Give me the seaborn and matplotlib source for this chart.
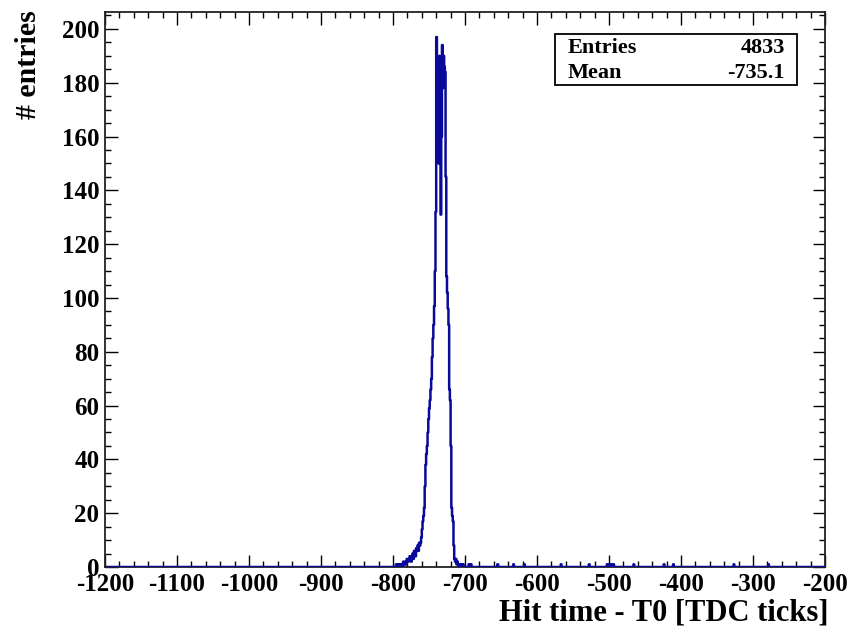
import numpy as np
import matplotlib
matplotlib.use("Agg")
import matplotlib.pyplot as plt
from matplotlib.ticker import MultipleLocator
import seaborn as sns

# bin low edges (1 TDC tick per bin) and counts of the main peak
peak_first_tick = -796
peak_counts = [
    1, 0, 0, 1, 0, 1, 0, 1, 1, 0,          # -796 .. -787
    2, 1, 1, 2, 1, 3, 2, 2, 3, 4,          # -786 .. -777
    3, 2, 4, 5, 3, 6, 5, 4, 7, 6,          # -776 .. -767
    8, 6, 9, 8, 9, 11, 14, 17, 19, 22,     # -766 .. -757
    30, 38, 42, 45, 50, 55, 59, 62, 66, 70,  # -756 .. -747
    78, 85, 90, 97, 110, 132, 197, 160, 185, 150,  # -746 .. -737
    190, 183, 131, 160, 194, 178, 190, 186, 184, 145,  # -736 .. -727
    108, 102, 96, 90, 66, 62, 45, 22, 19, 17,  # -726 .. -717
    8, 3, 2, 3, 1, 2, 1, 0, 1, 1,          # -716 .. -707
    0, 1, 0, 1,                            # -706 .. -703
]
# isolated late hits
outlier_ticks = [-695, -692, -655, -633, -618, -567, -528, -503, -500,
                 -497, -494, -466, -424, -411, -327, -279]
outlier_counts = [1] * len(outlier_ticks)

n_entries = 4833
mean_value = -735.1

peak_ticks = list(range(peak_first_tick, peak_first_tick + len(peak_counts)))
ticks = np.array(peak_ticks + outlier_ticks) + 0.5
counts = np.array(peak_counts + outlier_counts)

sns.set_style("ticks")
plt.rcParams['font.family'] = ['Liberation Serif', 'DejaVu Serif']
plt.rcParams['font.weight'] = 'bold'
plt.rcParams['axes.unicode_minus'] = False
plt.rcParams['text.color'] = 'black'
plt.rcParams['axes.labelcolor'] = 'black'

fig = plt.figure(figsize=(8.47, 6.28), dpi=100)
ax = fig.add_axes([105 / 847, 1 - 567 / 628, 720 / 847, 555 / 628])

sns.histplot(x=ticks, weights=counts, binwidth=1, binrange=(-1200, -200),
             element="step", fill=False, color="#0a0a9a", linewidth=1.8,
             ax=ax, zorder=3)

ax.set_xlim(-1200, -200)
ax.set_ylim(0, 206.3)
ax.xaxis.set_major_locator(MultipleLocator(100))
ax.xaxis.set_minor_locator(MultipleLocator(20))
ax.yaxis.set_major_locator(MultipleLocator(20))
ax.yaxis.set_minor_locator(MultipleLocator(5))
ax.tick_params(which="both", direction="in", top=True, right=True,
               width=1.0, colors="black", labelcolor="black")
ax.tick_params(which="major", length=9, labelsize=18, pad=4)
ax.tick_params(which="minor", length=4.5)
for lab in ax.get_xticklabels() + ax.get_yticklabels():
    lab.set_fontweight("bold")
for sp in ax.spines.values():
    sp.set_linewidth(1.3)
    sp.set_color("#222222")

ax.set_xlabel("Hit time - T0 [TDC ticks]", fontsize=22, fontweight="bold",
              loc="right", color="black")
ax.xaxis.set_label_coords(1.005, -0.057)
ax.set_ylabel("# entries", fontsize=21.5, fontweight="bold", loc="top",
              color="black")
ax.yaxis.set_label_coords(-0.087, 1.004)

# statistics box
box = plt.Rectangle((0.6255, 0.868), 0.3355, 0.092, transform=ax.transAxes,
                    facecolor="white", edgecolor="black", linewidth=1.3,
                    zorder=5)
ax.add_patch(box)
ax.text(0.642, 0.935, "Entries", transform=ax.transAxes, fontsize=16,
        fontweight="bold", ha="left", va="center", zorder=6)
ax.text(0.944, 0.935, f"{n_entries}", transform=ax.transAxes, fontsize=16,
        fontweight="bold", ha="right", va="center", zorder=6)
ax.text(0.642, 0.890, "Mean", transform=ax.transAxes, fontsize=16,
        fontweight="bold", ha="left", va="center", zorder=6)
ax.text(0.944, 0.890, f"{mean_value}", transform=ax.transAxes, fontsize=16,
        fontweight="bold", ha="right", va="center", zorder=6)

fig.savefig("out.png", dpi=100)
